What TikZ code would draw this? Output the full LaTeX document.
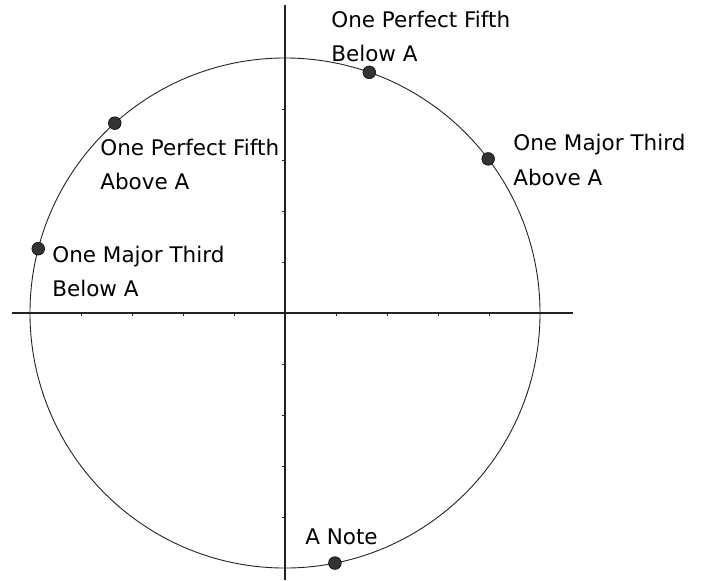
\documentclass[tikz,border=0pt]{standalone}
\usepackage{fontspec}
\setmainfont{DejaVu Sans}
\usepackage{tikz}
\usetikzlibrary{positioning}
\definecolor{dotgray}{HTML}{333333}
\definecolor{axisgray}{HTML}{222222}
\tikzset{
  axisline/.style={draw=axisgray, line width=0.6pt},
  tickmark/.style={draw=axisgray, line width=0.5pt},
  pitchcircle/.style={draw=axisgray, line width=0.5pt},
  notedot/.style={circle, fill=dotgray, draw=black, line width=0.3pt, inner sep=0pt, minimum size=0.25cm},
  notelabel/.style={align=left, font=\fontsize{12}{19}\selectfont, inner sep=0pt}
}
\begin{document}
\begin{tikzpicture}[x=1cm,y=1cm]
  \useasboundingbox (-5.588,-5.235) rectangle (8.176,6.137);
  % axes
  \coordinate (xmin) at (-5.353,0);
  \coordinate (xmax) at (5.647,0);
  \coordinate (ymin) at (0,-5.235);
  \coordinate (ymax) at (0,6.04);
  \draw[axisline] (xmin) -- (xmax);
  \draw[axisline] (ymin) -- (ymax);
  \foreach \t in {-4,-3,-2,-1,1,2,3,4} {
    \draw[tickmark] (\t,0) -- (\t,-0.06);
    \draw[tickmark] (0,\t) -- (-0.06,\t);
  }
  % circle of fifths and thirds (angle = frac(log2 f) * 360)
  \draw[pitchcircle] (0,0) circle (5);
  \node[notedot] (anote) at (281.29:5) {};
  \node[notedot] (fifthabove) at (131.88:5) {};
  \node[notedot] (thirdabove) at (37.18:5) {};
  \node[notedot] (fifthbelow) at (70.70:5) {};
  \node[notedot] (thirdbelow) at (165.40:5) {};
  \node[notelabel, anchor=west] (anotetext) at (0.39,-4.39) {A Note};
  \node[notelabel, anchor=west] (fifthabovetext) at (-3.627,2.92) {One Perfect Fifth\\Above A};
  \node[notelabel, anchor=west] (thirdabovetext) at (4.47,3.0) {One Major Third\\Above A};
  \node[notelabel, anchor=west] (fifthbelowtext) at (0.902,5.43) {One Perfect Fifth\\Below A};
  \node[notelabel, anchor=west] (thirdbelowtext) at (-4.569,0.82) {One Major Third\\Below A};
\end{tikzpicture}
\end{document}
